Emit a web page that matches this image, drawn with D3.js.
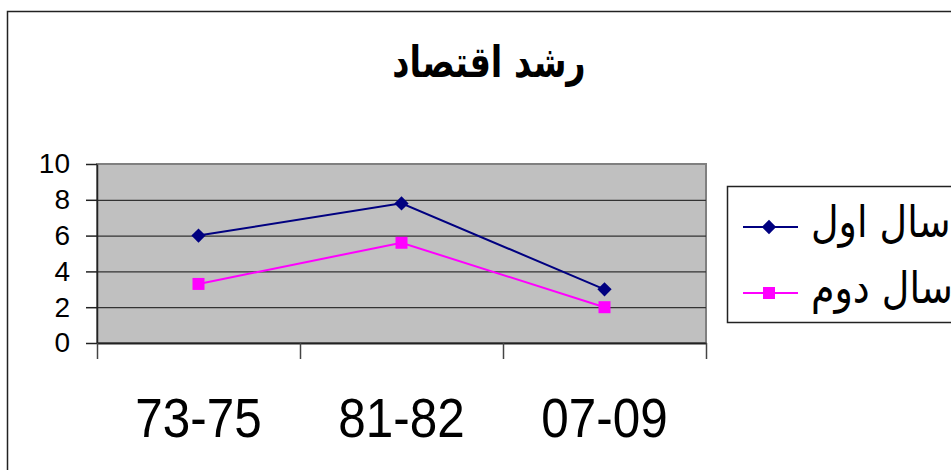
<!DOCTYPE html>
<html>
<head>
<meta charset="utf-8">
<script src="https://cdn.jsdelivr.net/npm/d3@7"></script>
<style>
    body { margin: 0; background: #fff; }
    svg { display: block; }
</style>
</head>
<body>
<div id="chart"></div>
<script>
const title = 'رشد اقتصاد';
const categories = ['73-75', '81-82', '07-09'];
const seriesNames = ['سال اول', 'سال دوم'];
const firstYear = [6, 7.8, 3];
const secondYear = [3.3, 5.6, 2];
const yTicks = [0, 2, 4, 6, 8, 10];

const width = 951;
const height = 470;
const plot = { left: 97, top: 164, right: 706, bottom: 343 };

const svg = d3.select('#chart')
    .append('svg')
    .attr('width', width)
    .attr('height', height);

// outer chart frame, runs off the right and bottom edges
svg.append('rect')
    .attr('x', 7.5)
    .attr('y', 11.5)
    .attr('width', 1000)
    .attr('height', 600)
    .attr('fill', '#fff')
    .attr('stroke', '#222')
    .attr('stroke-width', 1.5);

svg.append('text')
    .attr('transform', 'translate(489,77) scale(0.86,1.1)')
    .attr('text-anchor', 'middle')
    .attr('font-family', 'DejaVu Sans')
    .attr('font-weight', 'bold')
    .attr('font-size', 39)
    .text(title);

const xScale = d3.scaleBand()
    .domain(categories)
    .range([plot.left, plot.right]);

const yScale = d3.scaleLinear()
    .domain([0, 10])
    .range([plot.bottom, plot.top]);

// plot background
svg.append('rect')
    .attr('x', plot.left)
    .attr('y', plot.top)
    .attr('width', plot.right - plot.left)
    .attr('height', plot.bottom - plot.top)
    .attr('fill', '#c0c0c0')
    .attr('stroke', '#808080')
    .attr('stroke-width', 2);

// gridlines
svg.append('g')
    .attr('transform', `translate(${plot.left},0)`)
    .call(d3.axisRight(yScale)
        .tickValues(yTicks.filter(t => t > 0 && t < 10))
        .tickSize(plot.right - plot.left)
        .tickFormat(''))
    .call(g => g.select('.domain').remove())
    .call(g => g.selectAll('line').attr('stroke', '#333').attr('stroke-width', 1.2));

// y axis
svg.append('g')
    .attr('transform', `translate(${plot.left},0)`)
    .call(d3.axisLeft(yScale)
        .tickValues(yTicks)
        .tickSizeInner(11)
        .tickSizeOuter(0)
        .tickPadding(16))
    .call(g => g.select('.domain').attr('stroke', '#222').attr('stroke-width', 1.5))
    .call(g => g.selectAll('line').attr('stroke', '#222').attr('stroke-width', 1.5))
    .call(g => g.selectAll('text')
        .attr('font-family', 'Liberation Sans, Arial, sans-serif')
        .attr('font-size', 28)
        .attr('fill', '#000'));

// x axis: ticks at band boundaries, labels at band centres
svg.append('g')
    .attr('transform', `translate(0,${plot.bottom})`)
    .call(d3.axisBottom(d3.scaleLinear().domain([0, categories.length]).range([plot.left, plot.right]))
        .ticks(categories.length)
        .tickSizeInner(16)
        .tickSizeOuter(0)
        .tickFormat(''))
    .call(g => g.select('.domain').attr('stroke', '#222').attr('stroke-width', 2))
    .call(g => g.selectAll('line').attr('stroke', '#444').attr('stroke-width', 1.5));

svg.append('g')
    .selectAll('text')
    .data(categories)
    .join('text')
    .attr('transform', d => `translate(${xScale(d) + xScale.bandwidth() / 2},437) scale(0.95,1.05)`)
    .attr('text-anchor', 'middle')
    .attr('font-family', 'Liberation Sans, Arial, sans-serif')
    .attr('font-size', 52)
    .attr('fill', '#000')
    .text(d => d);

const cx = (d, i) => xScale(categories[i]) + xScale.bandwidth() / 2;
const line = d3.line().x(cx).y(d => yScale(d));

const series = [
    { values: firstYear, color: '#000080', symbol: d3.symbolDiamond2, size: 130 },
    { values: secondYear, color: '#ff00ff', symbol: d3.symbolSquare, size: 144 }
];

series.forEach(s => {
    svg.append('path')
        .datum(s.values)
        .attr('d', line)
        .attr('fill', 'none')
        .attr('stroke', s.color)
        .attr('stroke-width', 2);

    svg.append('g')
        .selectAll('path')
        .data(s.values)
        .join('path')
        .attr('transform', (d, i) => `translate(${cx(d, i)},${yScale(d)})`)
        .attr('d', d3.symbol().type(s.symbol).size(s.size))
        .attr('fill', s.color);
});

// legend, cut by the right edge
const legend = svg.append('g');
legend.append('rect')
    .attr('x', 727.5)
    .attr('y', 186.5)
    .attr('width', 300)
    .attr('height', 136)
    .attr('fill', '#fff')
    .attr('stroke', '#222')
    .attr('stroke-width', 1.5);

const legendY = [227, 293];
series.forEach((s, i) => {
    const y = legendY[i];
    legend.append('line')
        .attr('x1', 743)
        .attr('x2', 798)
        .attr('y1', y)
        .attr('y2', y)
        .attr('stroke', s.color)
        .attr('stroke-width', 2);
    legend.append('path')
        .attr('transform', `translate(769,${y})`)
        .attr('d', d3.symbol().type(s.symbol).size(s.size))
        .attr('fill', s.color);
    legend.append('text')
        .attr('transform', `translate(811,${y + 10}) scale(0.95,1.1)`)
        .attr('font-family', 'DejaVu Sans')
        .attr('font-size', 40)
        .attr('fill', '#000')
        .text(seriesNames[i]);
});
</script>
</body>
</html>
